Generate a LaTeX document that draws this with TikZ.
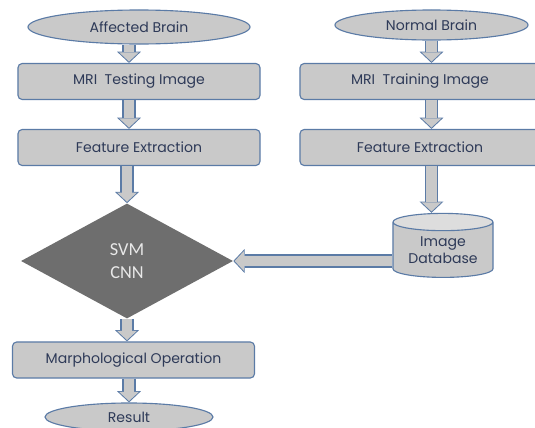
\documentclass[tikz,border=0pt]{standalone}
\usepackage{fontspec}
\setmainfont{Poppins}
\newfontfamily\calfont{Carlito}
\usetikzlibrary{shapes.geometric, arrows.meta}

\definecolor{boxgray}{HTML}{C9C9C9}
\definecolor{boxtop}{HTML}{DDDDDD}
\definecolor{boxline}{HTML}{5B7BA6}
\definecolor{inkblue}{HTML}{2E3A58}
\definecolor{svmgray}{HTML}{6E6E6E}
\definecolor{svmtext}{HTML}{E8E8E8}

\begin{document}
\begin{tikzpicture}[x=0.025cm, y=-0.025cm, font=\fontsize{10}{12}\selectfont,
  term/.style={ellipse, draw=boxline, fill=boxgray, line width=0.8pt, inner sep=0pt, text=inkblue},
  proc/.style={rectangle, rounded corners=3pt, draw=boxline, fill=boxgray, line width=0.8pt,
    inner sep=0pt, minimum width=6.05cm, minimum height=0.9cm, text=inkblue},
  flow/.style={draw=boxgray, line width=7.5pt, shorten >=1pt,
    -{Triangle[length=6.5pt, width=14pt, line width=0pt]},
    preaction={draw=boxline, line width=9.3pt, shorten >=0pt,
      -{Triangle[length=8pt, width=17pt, line width=0pt]}}}]
  \useasboundingbox (0,0) rectangle (535,428);

  % testing side
  \node[term, minimum width=5.55cm, minimum height=0.85cm] (aff) at (139,27) {Affected Brain};
  \node[proc] (test) at (139,81.5) {MRI\ \ Testing Image};
  \node[proc] (featL) at (139,147.5) {Feature Extraction};
  \node[diamond, fill=svmgray, minimum width=5.3cm, minimum height=2.875cm, inner sep=0pt,
    text=svmtext, font=\calfont\fontsize{13}{16}\selectfont, align=center] (svm) at (127,261) {SVM\\CNN};
  \node[proc] (morph) at (133.5,360) {Marphological Operation};
  \node[term, minimum width=4.2cm, minimum height=0.7cm] (res) at (129,417) {Result};

  % training side
  \node[term, minimum width=4.825cm, minimum height=0.75cm] (norm) at (431.5,25) {Normal Brain};
  \node[proc, minimum width=6cm] (train) at (420,81.5) {MRI\ \ Training Image};
  \node[proc, minimum width=6cm] (featR) at (420,147.5) {Feature Extraction};
  \node[cylinder, shape border rotate=90, aspect=0.25, draw=boxline, line width=0.8pt,
    cylinder uses custom fill, cylinder body fill=boxgray, cylinder end fill=boxtop,
    minimum width=2.5cm, minimum height=1.6cm, inner sep=0pt, align=center, text=inkblue] (db) at (443,250) {Image\\Database};

  \draw[flow] (aff.south -| res.north) -- (test.north -| res.north);
  \draw[flow] (test.south -| res.north) -- (featL.north -| res.north);
  \draw[flow] (featL.south -| svm.north) -- (svm.north);
  \draw[flow] (svm.south) -- (morph.north -| svm.south);
  \draw[flow] (morph.south -| res.north) -- (res.north);

  \draw[flow] (norm.south) -- (train.north -| norm.south);
  \draw[flow] (train.south -| norm.south) -- (featR.north -| norm.south);
  \draw[flow] (featR.south -| norm.south) -- (db.north -| norm.south);
  \draw[flow] (svm.east -| db.west) -- (svm.east);
\end{tikzpicture}
\end{document}
